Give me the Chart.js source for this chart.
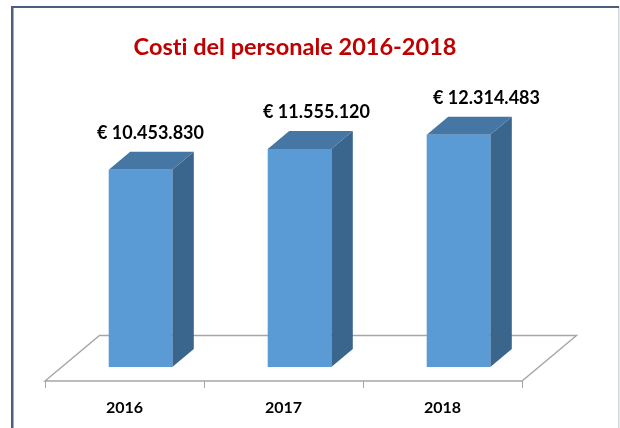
<!DOCTYPE html>
<html lang="it">
<head>
<meta charset="utf-8">
<title>Costi del personale 2016-2018</title>
<script src="https://cdn.jsdelivr.net/npm/chart.js@4"></script>
<style>html,body{margin:0;padding:0;background:#fff}canvas{display:block}</style>
</head>
<body>
<canvas id="c" width="620" height="428"></canvas>
<script>
const categories = ['2016', '2017', '2018'];
const costs = [10453830, 11555120, 12314483];
const valueLabels = ['€ 10.453.830', '€ 11.555.120', '€ 12.314.483'];
const titleText = 'Costi del personale 2016-2018';

const FONT = 'Lato, Carlito, sans-serif';
const DEPTH_X = 21.5, DEPTH_Y = 18;
const FLOOR_FRONT_X = 16, FLOOR_FRONT_Y = 14, FLOOR_X = 54.5, FLOOR_Y = 45.5;
const LABEL_SHIFT = [10, 17, 28];

const pseudo3d = {
  id: 'pseudo3d',
  afterLayout(chart) {
    chart.titleBlock.left -= 4.5;
    chart.titleBlock.right -= 4.5;
  },
  beforeDraw(chart) {
    const c = chart.ctx;
    c.letterSpacing = '0.01px'; // keeps "ti" from forming a ligature
    c.save();
    c.fillStyle = '#fff';
    c.fillRect(0, 0, chart.width, chart.height);
    c.fillStyle = '#D3D7DF';
    c.fillRect(618, 6, 1.5, chart.height - 6);
    c.fillStyle = '#4A5F7C';
    c.fillRect(11, 6, 608, 2);
    c.fillRect(11, 6, 2.5, chart.height - 6);
    c.restore();
  },
  beforeDatasetsDraw(chart) {
    const c = chart.ctx, x = chart.scales.x, y = chart.scales.y;
    const base = y.getPixelForValue(0);
    const xl = x.left - FLOOR_FRONT_X, xr = x.right - FLOOR_FRONT_X, fy = base + FLOOR_FRONT_Y;
    c.save();
    c.strokeStyle = '#A6A6A6';
    c.lineWidth = 1.4;
    c.beginPath();
    c.moveTo(xl, fy);
    c.lineTo(xr, fy);
    c.lineTo(xr + FLOOR_X, fy - FLOOR_Y);
    c.lineTo(xl + FLOOR_X, fy - FLOOR_Y);
    c.closePath();
    c.stroke();
    c.lineWidth = 1;
    c.beginPath();
    for (let i = 0; i <= categories.length; i++) {
      const t = Math.round(xl + (xr - xl) * i / categories.length) + 0.5;
      c.moveTo(t, fy);
      c.lineTo(t, fy + 7);
    }
    c.stroke();
    c.restore();
    // side and top faces sit behind the library's front faces
    const meta = chart.getDatasetMeta(0);
    c.save();
    meta.data.forEach((bar) => {
      const l = bar.x - bar.width / 2, r = bar.x + bar.width / 2, t = bar.y, b = bar.base;
      c.fillStyle = '#3A658C';
      c.beginPath();
      c.moveTo(r, t); c.lineTo(r + DEPTH_X, t - DEPTH_Y);
      c.lineTo(r + DEPTH_X, b - DEPTH_Y); c.lineTo(r, b);
      c.closePath(); c.fill();
      c.fillStyle = '#4676A4';
      c.beginPath();
      c.moveTo(l, t); c.lineTo(l + DEPTH_X, t - DEPTH_Y);
      c.lineTo(r + DEPTH_X, t - DEPTH_Y); c.lineTo(r, t);
      c.closePath(); c.fill();
    });
    c.restore();
  },
  afterDatasetsDraw(chart) {
    const c = chart.ctx, meta = chart.getDatasetMeta(0);
    c.save();
    c.font = 'bold 18px ' + FONT;
    c.fillStyle = '#000';
    c.textAlign = 'center';
    c.textBaseline = 'middle';
    meta.data.forEach((bar, i) => {
      c.fillText(valueLabels[i], bar.x + LABEL_SHIFT[i], bar.y - DEPTH_Y - 19);
    });
    c.restore();
  }
};

new Chart(document.getElementById('c'), {
  type: 'bar',
  data: {
    labels: categories,
    datasets: [{ data: costs, backgroundColor: '#5B9BD5', borderWidth: 0, barPercentage: 0.4, categoryPercentage: 1 }]
  },
  plugins: [pseudo3d],
  options: {
    responsive: false,
    animation: false,
    layout: { padding: { left: 61, right: 82, top: 0, bottom: 0 } },
    plugins: {
      legend: { display: false },
      tooltip: { enabled: false },
      title: {
        display: true,
        text: titleText,
        color: '#C00000',
        font: { family: FONT, size: 23.5, weight: 'bold', lineHeight: 1.2 },
        padding: { top: 33.8, bottom: 41 }
      }
    },
    scales: {
      x: {
        grid: { display: false },
        border: { display: false },
        afterFit(s) { s.height = 61; },
        ticks: {
          color: '#000',
          font: { family: FONT, size: 16, weight: 'bold' },
          labelOffset: -16,
          padding: 23,
          maxRotation: 0
        }
      },
      y: { display: false, min: 0, max: 14000000 }
    }
  }
});
</script>
</body>
</html>
